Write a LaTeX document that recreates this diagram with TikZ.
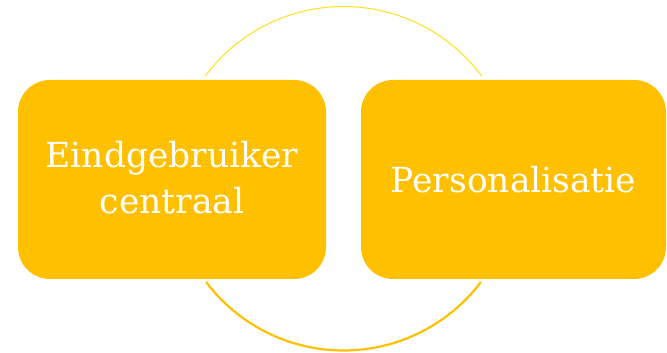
\documentclass[tikz,border=0pt]{standalone}
\usepackage{fontspec}
\newfontfamily\boxfont{DejaVu Serif}
\definecolor{boxyellow}{HTML}{FFC000}
\definecolor{arcyellow}{HTML}{FFE01A}
\begin{document}
\begin{tikzpicture}[x=1pt,y=1pt,
  cardbox/.style={fill=boxyellow, rounded corners=32pt, minimum width=308pt, minimum height=199pt, inner sep=0pt, text=white, font=\boxfont\fontsize{34.5}{46}\selectfont, align=center}]
\useasboundingbox (0,0) rectangle (667,353);
\draw[arcyellow, line width=1pt] (343.5,174.5) ++(36.6:172) arc[start angle=36.6, end angle=143.4, radius=172];
\draw[boxyellow, line width=2.2pt] (343.5,174.5) ++(-143:172) arc[start angle=-143, end angle=-37, radius=172];
\node[cardbox] (left) at (172,173.5) {};
\node[text=white, font=\boxfont\fontsize{34.5}{46}\selectfont, align=center, inner sep=0pt] (lefttext) at ([yshift=2pt]left.center) {Eindgebruiker\\centraal};
\node[cardbox, minimum width=305pt] (right) at (513.5,173.5) {Personalisatie};
\end{tikzpicture}
\end{document}
